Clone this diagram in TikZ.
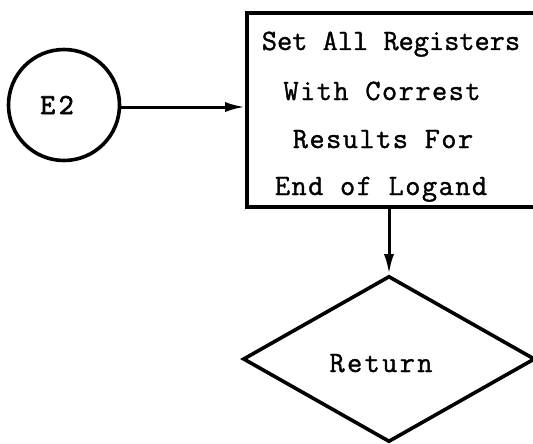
\documentclass[tikz,border=0pt]{standalone}
\usepackage{fontspec}
\newfontfamily\twa[FakeBold=1.2]{Latin Modern Mono}
\newfontfamily\twb[FakeBold=1.2,LetterSpace=5]{Latin Modern Mono}
\newfontfamily\twc[FakeBold=1.2,LetterSpace=8]{Latin Modern Mono}
\newfontfamily\twe[FakeBold=2.5,LetterSpace=12]{Latin Modern Mono}
\usetikzlibrary{arrows.meta,shapes.geometric}
\tikzset{
  shp/.style={draw=black,line width=3.6pt,inner sep=0pt},
  arr/.style={line width=3pt,-{Latex[length=20pt,width=10pt]}},
  txt/.style={inner sep=0pt,anchor=base}
}
\begin{document}
\begin{tikzpicture}[x=1pt,y=-1pt]
\useasboundingbox[fill=white] (0,0) rectangle (533,444);
\clip (0,0) rectangle (533,444);
\node[shp,circle,minimum size=111pt,font=\twe\fontsize{29}{32}\selectfont,text depth=0pt] (e2) at (64,105) {\hspace*{-14pt}E2};
\node[shp,rectangle,minimum width=300pt,minimum height=194pt] (box) at (397,110) {};
\node[txt,font=\twa\fontsize{29.5}{32}\selectfont] (t1) at (391,50) {Set All Registers};
\node[txt,font=\twb\fontsize{29.5}{32}\selectfont] (t2) at (382,100) {With Correst};
\node[txt,font=\twb\fontsize{29.5}{32}\selectfont] (t3) at (383,148) {Results For};
\node[txt,font=\twb\fontsize{29.5}{32}\selectfont] (t4) at (381,195) {End of Logand};
\node[shp,diamond,minimum width=292pt,minimum height=166pt] (dia) at (389,359) {};
\node[txt,font=\twc\fontsize{29.5}{32}\selectfont] (ret) at (381,372) {Return};
\draw[arr] (e2.east |- 0,107) -- (box.west |- 0,107);
\draw[arr] (dia.north |- box.south) -- (dia.north);
\end{tikzpicture}
\end{document}
